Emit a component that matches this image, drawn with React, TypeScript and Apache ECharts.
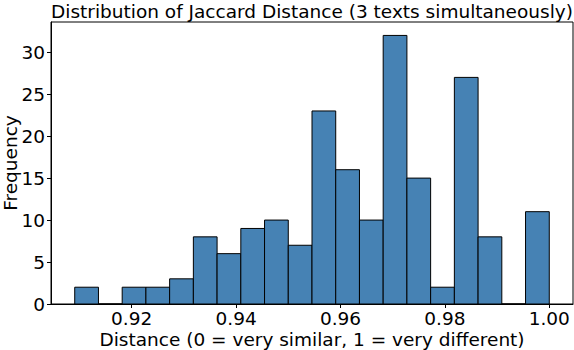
import React, { useEffect, useRef } from "react";
import * as echarts from "echarts";

// Histogram: 20 bins over [10/11, 1]
const binStart = 10 / 11;
const binEnd = 1.0;
const counts = [2, 0, 2, 2, 3, 8, 6, 9, 10, 7, 23, 16, 10, 32, 15, 2, 27, 8, 0, 11];
const xTicks = [0.92, 0.94, 0.96, 0.98, 1.0];
const yTicks = [0, 5, 10, 15, 20, 25, 30];

const titleText = "Distribution of Jaccard Distance (3 texts simultaneously)";
const xName = "Distance (0 = very similar, 1 = very different)";
const yName = "Frequency";

export default function App() {
  const ref = useRef<HTMLDivElement>(null);
  useEffect(() => {
    if (!ref.current) return;
    const chart = echarts.init(ref.current, undefined, { renderer: "svg" });
    const width = (binEnd - binStart) / counts.length;
    const data = counts.map((c, i) => [binStart + i * width, binStart + (i + 1) * width, c]);
    const span = binEnd - binStart;
    const font = "DejaVu Sans";
    const fs = 18.5;
    chart.setOption({
      animation: false,
      title: {
        text: titleText,
        left: 307,
        textAlign: "center",
        top: -3,
        textStyle: { fontFamily: font, fontSize: fs, fontWeight: "normal", color: "#000" },
      },
      grid: {
        left: 51,
        right: 1,
        top: 22,
        bottom: 46,
        show: true,
        borderColor: "#000",
        borderWidth: 1,
        backgroundColor: "transparent",
        outerBoundsMode: "none",
        containLabel: false,
      },
      xAxis: {
        type: "value",
        min: binStart - span * 0.05,
        max: binEnd + span * 0.05,
        name: xName,
        nameLocation: "middle",
        nameGap: 26,
        nameMoveOverlap: false,
        nameTextStyle: { fontFamily: font, fontSize: fs, color: "#000" },
        axisLine: { show: true, lineStyle: { color: "#000", width: 1 } },
        axisTick: { show: true, length: 4, lineStyle: { color: "#000" }, customValues: xTicks },
        axisLabel: {
          fontFamily: font,
          fontSize: fs,
          color: "#000",
          margin: 5,
          customValues: xTicks,
          formatter: (v: number) => v.toFixed(2),
        },
        splitLine: { show: false },
      },
      yAxis: {
        type: "value",
        min: 0,
        max: 33.6,
        interval: 5,
        name: yName,
        nameLocation: "middle",
        nameGap: 31,
        nameMoveOverlap: false,
        nameTextStyle: { fontFamily: font, fontSize: fs, color: "#000" },
        axisLine: { show: true, lineStyle: { color: "#000", width: 1 } },
        axisTick: { show: true, length: 4, lineStyle: { color: "#000" }, customValues: yTicks },
        axisLabel: {
          fontFamily: font,
          fontSize: fs,
          color: "#000",
          margin: 6,
          customValues: yTicks,
        },
        splitLine: { show: false },
      },
      series: [
        {
          type: "custom",
          data,
          encode: { x: [0, 1], y: 2 },
          renderItem: (params: any, api: any) => {
            const p0 = api.coord([api.value(0), 0]);
            const p1 = api.coord([api.value(1), api.value(2)]);
            return {
              type: "rect",
              shape: { x: p0[0], y: p1[1], width: p1[0] - p0[0], height: p0[1] - p1[1] },
              style: { fill: "#4682b4", stroke: "#000", lineWidth: 1 },
            };
          },
        },
      ],
    });
    return () => chart.dispose();
  }, []);
  return <div ref={ref} style={{ width: 574, height: 350, position: "absolute", left: 0, top: 0 }} />;
}
